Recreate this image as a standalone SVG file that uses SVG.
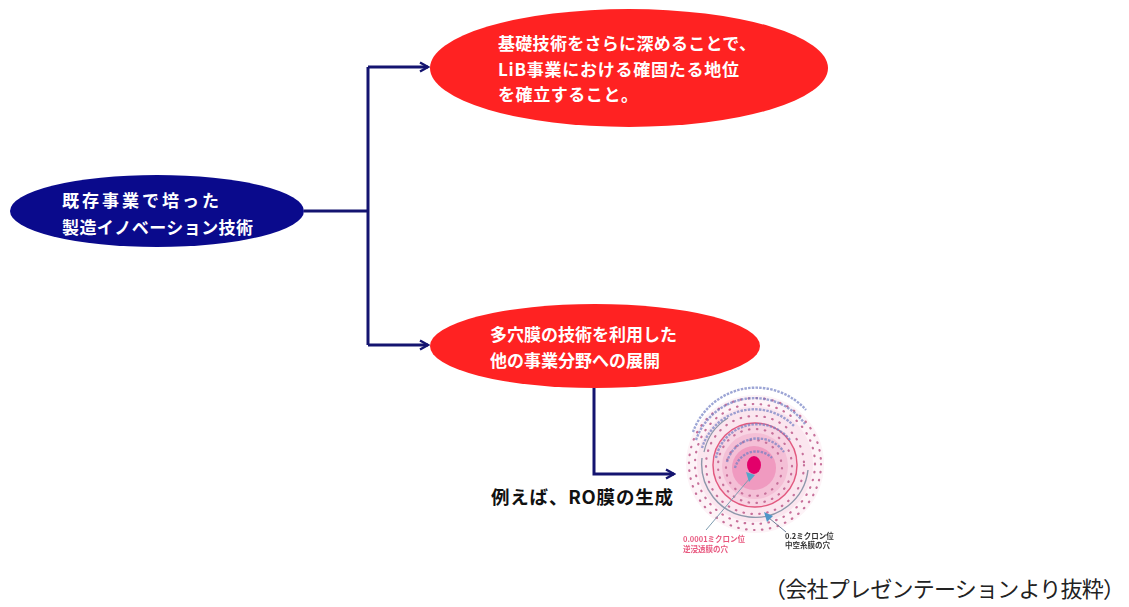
<svg xmlns="http://www.w3.org/2000/svg" width="1129" height="607" viewBox="0 0 1129 607">
  <defs>
    <style>
      .jp { font-family: "Noto Sans CJK JP", "Noto Sans", sans-serif; }
      .white { fill: #ffffff; font-weight: 700; font-size: 17px; }
      .wire { fill: none; stroke: #141470; stroke-width: 3; }
      .small { font-family: "Noto Sans CJK JP", sans-serif; font-size: 7.5px; font-weight: 700; }
      .dots { fill: none; stroke-width: 2.2; stroke-linecap: round; }
    </style>
    <marker id="open-arrow" viewBox="0 0 12 12" refX="10" refY="6" markerWidth="12" markerHeight="12" markerUnits="userSpaceOnUse" orient="auto">
      <path d="M2,1.5 L10,6 L2,10.5" fill="none" stroke="#141470" stroke-width="2.4" stroke-linejoin="miter"/>
    </marker>
    <filter id="soft" x="-10%" y="-10%" width="120%" height="120%">
      <feGaussianBlur stdDeviation="0.7"/>
    </filter>
  </defs>

  <rect width="1129" height="607" fill="#ffffff"/>

  <!-- connectors -->
  <g id="connectors">
    <path class="wire" d="M304,211 H368"/>
    <path class="wire" d="M368,67 V345"/>
    <path class="wire" d="M368,67 H428" marker-end="url(#open-arrow)"/>
    <path class="wire" d="M368,345 H428" marker-end="url(#open-arrow)"/>
    <path class="wire" d="M594,388 V474 H674" marker-end="url(#open-arrow)"/>
  </g>

  <!-- source technology -->
  <g id="node-source">
    <ellipse cx="157" cy="211" rx="147" ry="36" fill="#0a0a8c"/>
    <text class="jp white" x="62" y="207" textLength="157">既存事業で培った</text>
    <text class="jp white" x="62" y="234" textLength="191">製造イノベーション技術</text>
  </g>

  <!-- goal: LiB business -->
  <g id="node-lib">
    <ellipse cx="629" cy="68" rx="199" ry="59" fill="#ff2222"/>
    <text class="jp white" x="498" y="50" textLength="258">基礎技術をさらに深めることで、</text>
    <text class="jp white" x="498" y="76" textLength="241">LiB事業における確固たる地位</text>
    <text class="jp white" x="498" y="101" textLength="140">を確立すること。</text>
  </g>

  <!-- goal: other fields -->
  <g id="node-expand">
    <ellipse cx="595" cy="346" rx="165" ry="42" fill="#ff2222"/>
    <text class="jp white" x="490" y="341" textLength="187">多穴膜の技術を利用した</text>
    <text class="jp white" x="490" y="367" textLength="170">他の事業分野への展開</text>
  </g>

  <!-- example label -->
  <g id="node-example">
    <text class="jp" x="491" y="504" font-size="18.5" font-weight="700" fill="#111111" textLength="182">例えば、RO膜の生成</text>
  </g>

  <!-- membrane pore-size figure -->
  <g id="node-membrane" filter="url(#soft)">
    <circle cx="755" cy="464" r="69" fill="#fdf3f7"/>
    <circle cx="755" cy="464" r="58" fill="#fbe6ef"/>
    <circle cx="755" cy="465" r="43" fill="#f8d4e3"/>
    <circle cx="755" cy="466" r="33" fill="#f4bfd6"/>
    <circle cx="754" cy="468" r="22" fill="#f09ac0"/>
    <!-- dotted rings -->
    <g class="dots" stroke="#c7709a" stroke-dasharray="0.5 7.5">
      <circle cx="755" cy="464" r="66"/>
      <circle cx="755" cy="464" r="60"/>
      <circle cx="755" cy="465" r="49"/>
      <circle cx="755" cy="466" r="37"/>
      <circle cx="754" cy="468" r="28"/>
    </g>
    <circle cx="755" cy="465" r="42" fill="none" stroke="#e2587e" stroke-width="1.4"/>
    <path d="M702,458 A53,53 0 0 0 808,470" fill="none" stroke="#8d97aa" stroke-width="1.4"/>
    <path d="M704,452 A53,53 0 0 1 728,418" fill="none" stroke="#8d97aa" stroke-width="1.2"/>
    <ellipse cx="754" cy="465" rx="7" ry="9" fill="#e3006a"/>
    <!-- ring captions, too small to read -->
    <g fill="none" stroke="#7480c4" stroke-width="2.4" stroke-dasharray="2.5 1.2" opacity="0.7">
      <path d="M693,432 A67,67 0 0 1 806,410"/>
      <path d="M696,440 A62,62 0 0 1 805,424"/>
      <path d="M702,448 A55,55 0 0 1 794,426"/>
      <path d="M716,458 A42,42 0 0 1 790,440"/>
      <path d="M727,462 A32,32 0 0 1 784,452"/>
      <path d="M735,468 A22,22 0 0 1 772,458"/>
    </g>
    <!-- leaders -->
    <path d="M706,530 L750,478" stroke="#7e9cb0" stroke-width="1" fill="none"/>
    <path d="M746,472 L755,475 L749,482 Z" fill="#57a6c9"/>
    <path d="M786,532 L769,518" stroke="#6f7f98" stroke-width="1" fill="none"/>
    <path d="M764,512 L773,516 L767,522 Z" fill="#4f96c8"/>
    <text class="small" x="683" y="542" fill="#e8587f">0.0001ミクロン位</text>
    <text class="small" x="683" y="552" fill="#e8587f">逆浸透膜の穴</text>
    <text class="small" x="785" y="539" fill="#333333">0.2ミクロン位</text>
    <text class="small" x="785" y="548" fill="#333333">中空糸膜の穴</text>
  </g>

  <!-- source note -->
  <g id="note">
    <text class="jp" x="764" y="597" font-size="22" fill="#222222" textLength="361">（会社プレゼンテーションより抜粋）</text>
  </g>
</svg>
